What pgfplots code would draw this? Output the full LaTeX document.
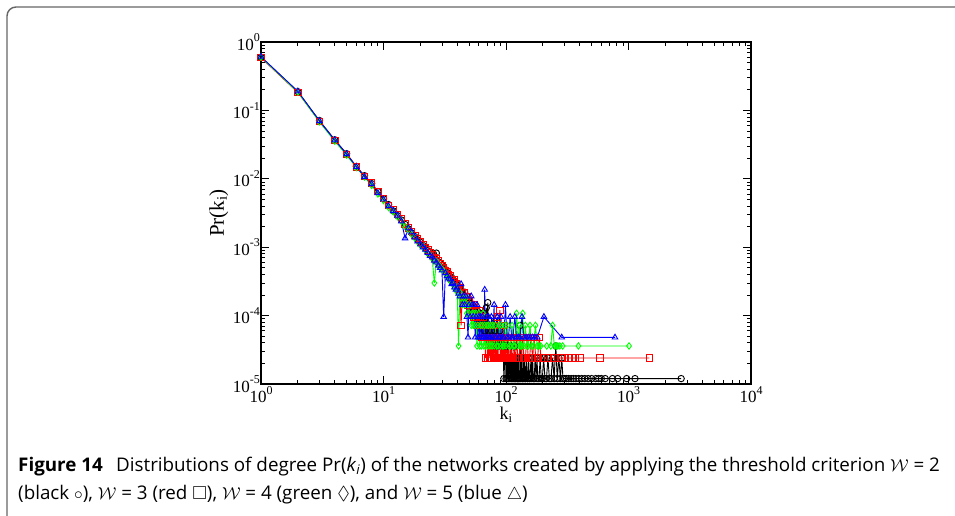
\documentclass[border=0pt]{standalone}
\usepackage{amssymb}
\usepackage{fontspec}
\usepackage{pgfplots}
\pgfplotsset{compat=1.18}
\setmainfont{Liberation Serif}
\newfontfamily\capfont{Open Sans}

\pgfplotstableread{
k P
1 0.60
2 0.188
3 0.071
4 0.0372
5 0.0233
6 0.0152
7 0.0111
8 0.0085
9 0.0065
10 0.0051
11 0.0042
12 0.0034
13 0.0029
14 0.0025
15 0.00215
16 0.00185
17 0.00162
18 0.00143
19 0.00128
20 0.00118
21 0.00106
22 0.00097
23 0.00089
24 0.00084
25 0.00077
26 0.00071
27 0.00082
28 0.00061
29 0.00058
30 0.00054
31 0.00050
32 0.00047
33 0.00043
34 0.00041
35 0.00037
36 0.00036
37 0.00033
38 0.00031
39 0.00029
40 0.00028
41 0.00025
42 0.00026
43 0.00023
44 0.00022
45 0.00020
46 0.00022
47 0.00018
48 0.00019
49 0.00016
50 0.00017
51 0.00014
52 0.00015
53 0.00013
54 0.00014
55 0.00012
56 0.00013
57 0.000108
58 0.00012
59 0.000096
60 0.000108
61 0.000084
62 0.000108
63 0.000084
64 0.000096
65 0.000072
66 0.000084
67 0.00006
68 0.000096
69 0.00013
70 0.000072
71 0.000155
72 0.00006
73 0.000084
74 0.000048
75 0.000072
76 0.00006
77 0.000048
78 0.000072
80 0.000036
81 0.00006
82 0.000048
84 0.000093
85 0.000036
86 0.000048
88 0.000036
89 0.00006
90 0.000024
92 0.000048
93 0.000024
95 0.000036
96 0.000012
98 0.000024
99 0.000036
100 0.000012
101 0.000024
102 0.000012
103 0.000036
104 0.000012
105 0.000024
106 0.000012
108 0.000024
109 0.000012
110 0.000036
111 0.000012
112 0.000024
113 0.000012
115 0.000024
116 0.000012
117 0.000012
118 0.000036
119 0.000012
120 0.000024
121 0.000012
123 0.000024
124 0.000012
125 0.000012
126 0.000024
127 0.000012
129 0.000012
130 0.000024
131 0.000072
132 0.000012
134 0.000024
135 0.000012
137 0.000012
138 0.000024
140 0.000012
142 0.000024
143 0.000012
145 0.000012
147 0.000024
149 0.000012
151 0.000012
153 0.000024
155 0.000012
157 0.000012
160 0.000024
162 0.000012
165 0.000024
167 0.000012
170 0.000012
173 0.000024
176 0.000012
179 0.000024
182 0.000012
186 0.000012
190 0.000024
194 0.000012
198 0.000012
203 0.000024
208 0.000012
214 0.000012
220 0.000024
226 0.000012
233 0.000012
240 0.000024
247 0.000012
255 0.000036
262 0.000012
270 0.000024
278 0.000012
285 0.000024
292 0.000012
300 0.000012
312 0.000012
325 0.000012
340 0.000012
355 0.000012
372 0.000012
392 0.000012
415 0.000012
440 0.000012
468 0.000012
500 0.000012
540 0.000012
570 0.000012
600 0.000012
645 0.000012
740 0.000012
815 0.000012
966 0.000012
1130 0.000012
2690 0.000012
}\blackdata

\pgfplotstableread{
k P
1 0.59
2 0.183
3 0.069
4 0.0366
5 0.0228
6 0.0150
7 0.0108
8 0.0087
9 0.0066
10 0.0052
11 0.0041
12 0.0036
13 0.0030
14 0.0026
15 0.0022
16 0.0019
17 0.0017
18 0.00148
19 0.00134
20 0.00119
21 0.00109
22 0.00100
23 0.00091
24 0.00083
25 0.00079
26 0.00070
27 0.00067
28 0.00063
29 0.00058
30 0.00053
31 0.00050
32 0.00046
33 0.00044
34 0.00040
35 0.00039
36 0.00034
37 0.00031
38 0.00034
39 0.00029
40 0.00026
41 0.00024
42 0.00026
43 0.000072
44 0.00022
45 0.00019
46 0.00022
47 0.00017
48 0.00019
49 0.000144
50 0.000168
51 0.00012
52 0.000144
53 0.00012
54 0.000096
55 0.000144
56 0.000096
57 0.00012
58 0.000072
59 0.000096
60 0.00012
61 0.000072
62 0.000096
63 0.000048
64 0.000072
65 0.000096
66 0.000048
67 0.000072
68 0.000024
69 0.000048
70 0.000072
71 0.000024
72 0.000048
73 0.000024
74 0.000072
75 0.000024
76 0.000048
77 0.000024
78 0.000048
79 0.000024
80 0.000072
81 0.000024
82 0.000048
83 0.000024
84 0.000024
85 0.000096
86 0.000024
87 0.000048
89 0.00012
90 0.000024
91 0.000048
92 0.000024
93 0.000024
94 0.000048
95 0.000024
96 0.000072
97 0.000024
98 0.000048
99 0.000024
100 0.000024
102 0.000048
103 0.000024
105 0.000048
106 0.000024
108 0.000024
110 0.000048
112 0.000024
114 0.000024
116 0.000048
118 0.000024
120 0.000024
122 0.000048
125 0.000024
128 0.000024
131 0.000048
134 0.000024
137 0.000048
140 0.000024
144 0.000024
148 0.000048
152 0.000024
156 0.000024
160 0.000048
165 0.000024
170 0.000048
175 0.000024
181 0.000024
187 0.000048
193 0.000024
205 0.000024
218 0.000024
232 0.000024
248 0.000024
265 0.000024
282 0.000024
300 0.000024
322 0.000024
345 0.000024
370 0.000024
400 0.000024
585 0.000024
1480 0.000024
}\reddata

\pgfplotstableread{
k P
1 0.60
2 0.185
3 0.068
4 0.0355
5 0.0222
6 0.0146
7 0.0106
8 0.0080
9 0.0060
10 0.0048
11 0.0038
12 0.0033
13 0.0028
14 0.0024
15 0.0020
16 0.0018
17 0.00155
18 0.00136
19 0.00120
20 0.00108
21 0.00100
22 0.00090
23 0.00080
24 0.00076
25 0.00068
26 0.00030
27 0.00062
28 0.00056
29 0.00052
30 0.00047
31 0.00045
32 0.00041
33 0.00037
34 0.00036
35 0.00032
36 0.00030
37 0.00029
38 0.00025
39 0.00026
40 0.00022
41 0.000036
42 0.00022
43 0.00018
44 0.000144
45 0.00018
46 0.000144
47 0.00018
48 0.000108
49 0.000144
50 0.000108
51 0.000144
52 0.000072
53 0.000108
54 0.000072
55 0.000108
56 0.000072
57 0.000108
58 0.000036
59 0.000072
60 0.000108
61 0.000036
62 0.000072
63 0.000036
64 0.000072
65 0.000108
66 0.000036
67 0.000072
68 0.000036
70 0.000072
71 0.000036
72 0.000072
74 0.000036
75 0.000072
77 0.000036
78 0.000072
80 0.000036
82 0.000072
84 0.000036
86 0.000036
88 0.000072
90 0.000036
92 0.000072
94 0.000036
96 0.000036
98 0.000072
100 0.000036
103 0.000072
106 0.000036
109 0.000036
112 0.000072
115 0.000036
118 0.000036
122 0.000108
125 0.000036
128 0.000072
131 0.000036
134 0.000036
137 0.000108
140 0.000036
144 0.000072
148 0.000036
152 0.000036
157 0.000072
162 0.000036
168 0.000036
174 0.000072
180 0.000036
186 0.000036
192 0.000036
215 0.000036
232 0.000036
240 0.000072
248 0.000036
256 0.000036
265 0.000036
275 0.000036
290 0.000036
390 0.000036
1010 0.000036
}\greendata

\pgfplotstableread{
k P
1 0.61
2 0.19
3 0.070
4 0.0368
5 0.0230
6 0.0150
7 0.0107
8 0.0084
9 0.0062
10 0.0050
11 0.0040
12 0.0034
13 0.0029
14 0.0024
15 0.00135
16 0.0019
17 0.00165
18 0.00140
19 0.00122
20 0.00110
21 0.00100
22 0.00092
23 0.00083
24 0.00075
25 0.00071
26 0.00064
27 0.00060
28 0.00054
29 0.00050
30 0.00046
31 0.000096
32 0.00042
33 0.00038
34 0.00035
35 0.00034
36 0.00029
37 0.00030
38 0.00026
39 0.00024
40 0.00025
41 0.00021
42 0.000192
43 0.00029
44 0.000144
45 0.000192
46 0.000144
47 0.000192
48 0.000096
49 0.000048
50 0.000144
51 0.000096
52 0.000192
53 0.000144
54 0.000096
55 0.000144
56 0.000048
57 0.000096
58 0.000144
59 0.000048
60 0.000096
61 0.000048
62 0.000096
63 0.000048
64 0.000096
65 0.000048
66 0.000048
67 0.00024
68 0.000048
69 0.000096
70 0.000048
72 0.000096
73 0.000048
75 0.000048
76 0.000096
78 0.000048
80 0.000144
81 0.000048
83 0.000048
85 0.000096
87 0.000048
89 0.000048
91 0.000096
93 0.000048
96 0.000048
99 0.000144
102 0.000048
105 0.000048
108 0.000096
111 0.000048
114 0.000048
118 0.000096
122 0.000048
126 0.000048
130 0.000048
135 0.000096
140 0.000048
146 0.000048
152 0.000048
158 0.000048
165 0.000048
172 0.000048
180 0.000048
204 0.000096
285 0.000048
776 0.000048
}\bluedata

\newcommand{\tenpow}[1]{10\raisebox{0.5em}{\fontsize{12}{12}\selectfont #1}}

\begin{document}
\begin{tikzpicture}
\path[use as bounding box] (0pt,0pt) rectangle (955pt,515pt);
\draw[black!60, line width=1.4pt, rounded corners=9pt] (7pt,-20pt) -- (7pt,508pt) -- (975pt,508pt);
\begin{axis}[
  at={(261pt,131pt)}, anchor=south west,
  width=490pt, height=342pt, scale only axis,
  xmode=log, ymode=log, log basis x=10, log basis y=10,
  xmin=1, xmax=10000, ymin=1e-5, ymax=1,
  axis line style={line width=1.3pt},
  tick align=inside,
  major tick length=8pt, minor tick length=4pt,
  every tick/.style={black, line width=0.8pt},
  tick label style={font=\fontsize{17}{19}\selectfont},
  xticklabel={\tenpow{\pgfmathprintnumber[fixed,precision=0,assume math mode=true]{\tick}}},
  yticklabel={\tenpow{\pgfmathprintnumber[fixed,precision=0,assume math mode=true]{\tick}}},
  yticklabel style={inner xsep=1pt},
  xticklabel style={inner ysep=2pt},
  xlabel={k\textsubscript{i}},
  ylabel={Pr(k\textsubscript{i})},
  xlabel style={font=\fontsize{18}{20}\selectfont, yshift=1pt},
  ylabel style={font=\fontsize{21}{23}\selectfont},
  every axis plot/.append style={line width=0.9pt, mark size=3.2pt},
]
\addplot[black, mark=o] table[x=k, y=P] {\blackdata};
\addplot[red, mark=square] table[x=k, y=P] {\reddata};
\addplot[green, mark=diamond] table[x=k, y=P] {\greendata};
\addplot[blue, mark=triangle] table[x=k, y=P] {\bluedata};
\end{axis}
\node[anchor=base west, inner sep=0pt, font=\capfont\fontsize{18.8}{21}\selectfont] at (18pt,44pt)
  {{\bfseries Figure 14}\hspace{0.45em} Distributions of degree Pr(\textit{k}\textsubscript{\textit{i}}) of the networks created by applying the threshold criterion $\mathcal{W}$ = 2};
\node[anchor=base west, inner sep=0pt, font=\capfont\fontsize{18.8}{21}\selectfont] at (18pt,16pt)
  {(black $\circ$), $\mathcal{W}$ = 3 (red $\square$), $\mathcal{W}$ = 4 (green $\lozenge$), and $\mathcal{W}$ = 5 (blue $\triangle$)};
\end{tikzpicture}
\end{document}
